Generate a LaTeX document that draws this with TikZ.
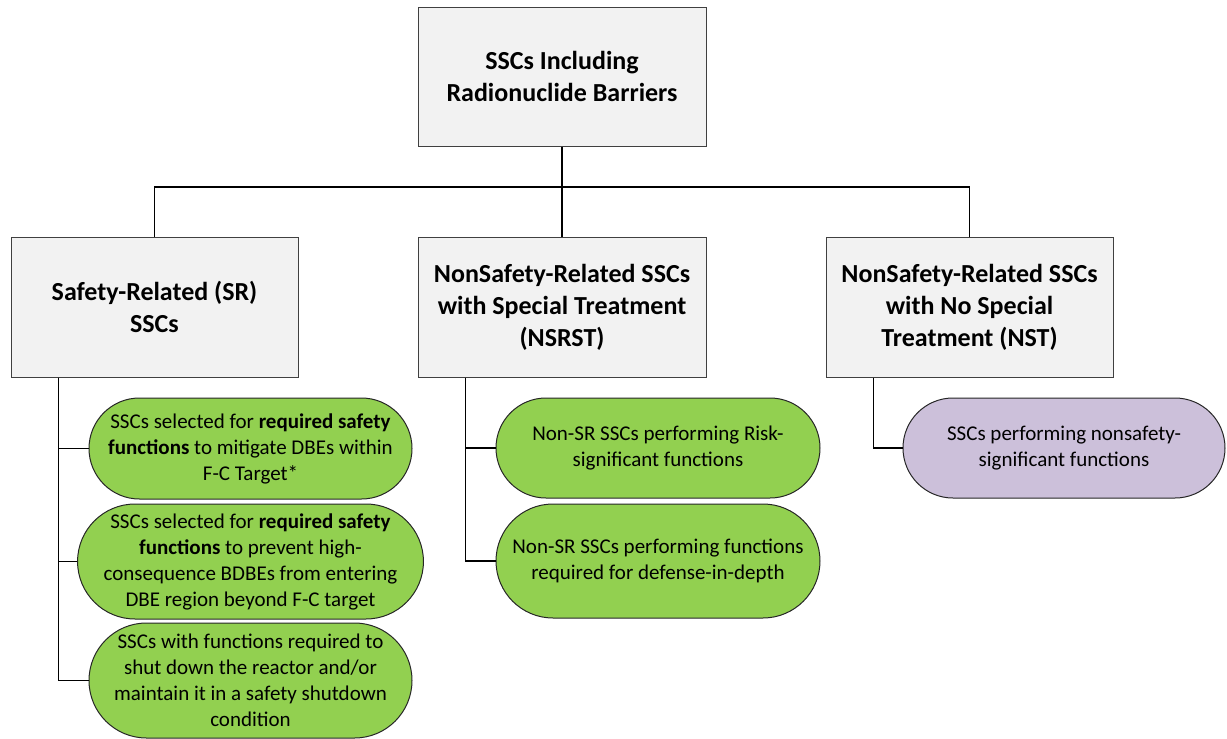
\documentclass[tikz,border=0pt]{standalone}
\usepackage{fontspec}
\setmainfont{Carlito}
\usetikzlibrary{shapes.misc}
\definecolor{boxgray}{HTML}{F2F2F2}
\definecolor{boxline}{HTML}{404040}
\definecolor{srgreen}{HTML}{92D050}
\definecolor{nstpurple}{HTML}{CCC0DA}
\tikzset{
  catbox/.style={draw=boxline, line width=1pt, fill=boxgray, rectangle,
    minimum width=287pt, minimum height=140pt, inner sep=0pt, align=center,
    font=\fontsize{26}{32}\selectfont\bfseries},
  pill/.style={draw=black!85, line width=1pt, rounded rectangle, inner sep=0pt,
    minimum width=323pt, align=center, font=\fontsize{21}{26}\selectfont},
  greenpill/.style={pill, fill=srgreen},
  purplepill/.style={pill, fill=nstpurple},
  link/.style={draw=black, line width=1.5pt}
}
\begin{document}
\begin{tikzpicture}[x=1pt, y=-1pt]
\useasboundingbox (0,0) rectangle (1227,739);
% category boxes
\node[catbox, minimum width=288pt, minimum height=139pt] (top) at (562,76.5) {SSCs Including\\Radionuclide Barriers};
\node[catbox] (sr) at (154.5,307) {Safety-Related (SR)\\SSCs};
\node[catbox, minimum width=288pt] (mid) at (562,307) {NonSafety-Related SSCs\\with Special Treatment\\(NSRST)};
\node[catbox] (nst) at (969.5,307) {NonSafety-Related SSCs\\with No Special\\Treatment (NST)};
% SR pills
\node[greenpill, minimum height=101pt] (sr1) at (250.5,448.5) {SSCs selected for \textbf{required safety}\\\textbf{functions} to mitigate DBEs within\\F-C Target*};
\node[greenpill, minimum height=115pt] (sr2) at (250.5,561.5) {SSCs selected for \textbf{required safety}\\\textbf{functions} to prevent high-\\consequence BDBEs from entering\\DBE region beyond F-C target};
\node[greenpill, minimum height=115pt] (sr3) at (250.5,680.5) {SSCs with functions required to\\shut down the reactor and/or\\maintain it in a safety shutdown\\condition};
% NSRST pills
\node[greenpill, minimum width=324pt, minimum height=100pt] (m1) at (658,448) {Non-SR SSCs performing Risk-\\significant functions};
\node[greenpill, minimum width=324pt, minimum height=114pt] (m2) at (658,561) {Non-SR SSCs performing functions\\required for defense-in-depth};
% NST pill
\node[purplepill, minimum width=322pt, minimum height=100pt] (n1) at (1064,448) {SSCs performing nonsafety-\\significant functions};
% connectors
\coordinate (bus) at (562,187);
\draw[link] (top.south) -- (mid.north);
\draw[link] (sr.north) |- (bus) -| (nst.north);
\coordinate (srt) at ([xshift=48pt]sr.south west);
\coordinate (midt) at ([xshift=48pt]mid.south west);
\coordinate (nstt) at ([xshift=48pt]nst.south west);
\draw[link] (srt) |- (sr1.west);
\draw[link] (srt) |- (sr2.west);
\draw[link] (srt) |- (sr3.west);
\draw[link] (midt) |- (m1.west);
\draw[link] (midt) |- (m2.west);
\draw[link] (nstt) |- (n1.west);
\end{tikzpicture}
\end{document}
